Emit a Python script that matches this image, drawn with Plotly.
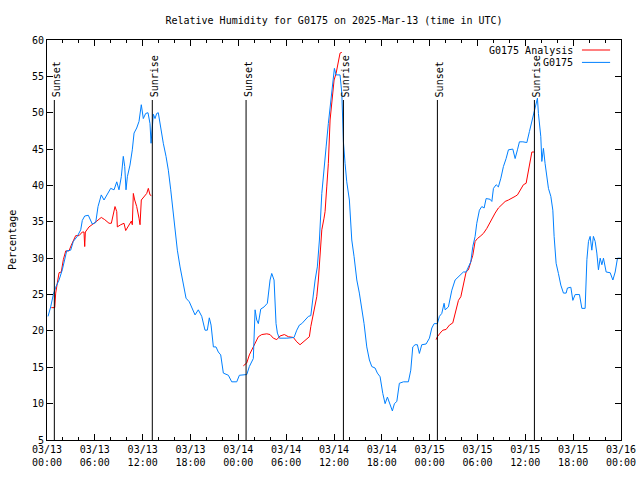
import pandas as pd
import plotly.graph_objects as go

BASE = pd.Timestamp("2025-03-13 00:00")

# G0175 observed relative humidity: hours since 03/13 00:00 UTC, percent
obs_hours = [0.13, 0.46, 0.79, 1.09, 1.51, 1.92, 2.47, 2.97, 3.30, 3.80, 4.23, 4.43, 4.73, 5.18, 5.68,
             6.11, 6.40, 6.74, 6.81, 7.15, 7.57, 7.99, 8.41, 8.75, 9.03, 9.32, 9.57, 9.75, 9.91, 10.08,
             10.41, 10.70, 10.92, 11.25, 11.54, 11.83, 12.08, 12.38, 12.67, 12.92, 13.05, 13.21, 13.34,
             13.55, 13.76, 13.96, 14.27, 14.59, 14.93, 15.22, 15.52, 15.77, 16.06, 16.35, 16.69, 17.10,
             17.44, 17.85, 18.16, 18.57, 18.98, 19.41, 19.82, 20.11, 20.36, 20.58, 20.87, 21.20, 21.49,
             21.79, 22.12, 22.75, 23.17, 23.80, 24.13, 24.63, 25.06, 25.38, 25.88, 26.10, 26.31, 26.51,
             26.81, 27.23, 27.64, 27.98, 28.19, 28.48, 28.73, 28.90, 29.15, 30.08, 30.99, 31.33, 31.66,
             31.96, 32.37, 32.79, 33.09, 33.34, 33.63, 33.91, 34.17, 34.47, 34.75, 35.01, 35.29, 35.51,
             35.72, 36.05, 36.26, 36.76, 36.98, 37.18, 37.39, 37.60, 37.93, 38.23, 38.52, 38.86, 39.18,
             39.48, 39.77, 40.11, 40.44, 40.74, 41.15, 41.44, 41.78, 42.12, 42.41, 42.70, 43.04, 43.32,
             43.58, 43.88, 44.20, 44.71, 45.33, 45.63, 45.88, 46.17, 46.46, 46.71, 47.01, 47.55, 47.97,
             48.27, 48.56, 48.97, 49.22, 49.52, 49.81, 49.94, 50.35, 50.78, 51.19, 51.73, 52.23, 52.57,
             52.86, 53.16, 53.41, 53.70, 53.91, 54.24, 54.54, 54.83, 55.08, 55.58, 55.80, 56.00, 56.34,
             56.62, 56.93, 57.25, 57.59, 57.88, 58.43, 58.72, 59.01, 59.26, 59.69, 60.19, 60.51, 60.82,
             61.10, 61.36, 61.52, 61.64, 61.94, 62.07, 62.27, 62.48, 62.70, 62.90, 63.20, 63.45, 63.61,
             63.86, 64.15, 64.45, 64.78, 65.12, 65.28, 65.71, 65.96, 66.25, 66.79, 67.09, 67.50, 67.72,
             67.92, 68.13, 68.34, 68.54, 68.76, 68.97, 69.17, 69.39, 69.60, 69.80, 70.14, 70.64, 70.98,
             71.27, 71.56, 71.98]
obs_values = [22.0, 23.3, 25.0, 26.0, 27.0, 28.4, 31.0, 31.1, 32.3, 33.0, 33.9, 35.2, 35.8, 35.9, 34.7,
              34.9, 37.1, 38.2, 38.7, 38.0, 38.9, 39.6, 39.4, 40.5, 39.4, 41.2, 44.0, 42.6, 39.4, 41.2,
              42.8, 44.9, 47.2, 47.9, 48.8, 51.1, 49.2, 49.9, 50.0, 48.5, 45.8, 48.5, 49.8,
              49.2, 49.9, 50.0, 47.6, 45.8, 44.0, 42.1, 39.4, 36.6, 33.9, 31.1, 28.8, 26.5,
              24.5, 24.0, 23.1, 22.2, 22.9, 22.0, 20.1, 20.1, 21.8, 20.8, 17.8, 17.8, 17.1,
              16.7, 14.2, 13.9, 13.0, 13.0, 13.9, 13.9, 14.0, 15.1, 16.2, 22.9, 21.5, 21.0,
              23.0, 23.3, 23.8, 27.0, 27.9, 27.0, 21.0, 19.7, 19.0, 19.0, 19.1, 20.1, 20.8,
              21.0, 21.5, 22.0, 22.1, 24.7, 27.0, 28.8, 32.5, 38.9, 42.6, 45.3, 48.5, 50.8,
              52.9, 56.1, 55.2, 55.2, 52.7, 46.0, 43.0, 40.5, 38.0, 32.5, 30.2, 27.0, 25.2,
              23.3, 21.0, 17.8, 16.0, 15.1, 14.9, 14.2, 13.7, 11.4, 10.0, 10.9, 9.8, 9.0,
              10.0, 10.3, 12.8, 13.0, 13.0, 14.6, 17.8, 18.1, 18.1, 16.9, 18.1, 18.2, 19.0,
              20.4, 21.0, 21.0, 22.0, 22.4, 23.8, 22.9, 23.3, 25.6, 27.0, 27.5, 28.1, 28.1,
              28.8, 29.5, 31.6, 33.0, 34.8, 36.6, 37.1, 36.9, 38.2, 38.1, 37.8, 39.6, 40.1,
              39.8, 41.0, 42.6, 43.7, 44.9, 45.0, 43.7, 44.9, 46.0, 46.0, 45.9, 47.4, 48.8,
              50.1, 51.5, 52.0, 49.9, 46.7, 43.3, 45.1, 43.0, 41.2, 39.6, 38.5, 36.6, 33.0,
              29.3, 27.9, 26.3, 25.2, 25.2, 25.9, 26.0, 24.2, 25.0, 25.0, 23.1, 23.1, 29.8,
              32.3, 33.0, 31.1, 33.0, 32.3, 30.7, 28.4, 30.0, 29.1, 30.0, 28.1, 28.0, 27.0,
              28.1, 30.0, 30.0]

# G0175 Analysis (three night-time segments)
ana_hours_1 = [0.54, 0.97, 1.09, 1.29, 1.51, 1.79, 2.05, 2.35, 2.76, 3.05, 3.39, 3.60, 4.02, 4.43, 4.64,
               4.73, 4.81, 5.27, 5.90, 6.40, 6.81, 7.24, 7.78, 8.07, 8.32, 8.53, 8.75, 8.82, 9.25, 9.66,
               9.87, 10.16, 10.58, 10.70, 10.83, 11.00, 11.25, 11.54, 11.67, 11.83, 12.17, 12.51, 12.71,
               12.92, 13.09]
ana_values_1 = [23.2, 23.2, 25.2, 26.5, 28.0, 28.1, 29.8, 31.0, 31.0, 31.8, 32.5, 33.1, 33.1, 33.6, 33.6,
                31.6, 33.6, 34.3, 34.8, 35.2, 35.6, 35.3, 34.8, 34.8, 36.2, 37.1, 36.4, 34.3, 34.6, 34.8,
                33.8, 34.3, 35.1, 34.6, 38.9, 38.0, 37.1, 35.5, 34.6, 38.0, 38.5, 38.9, 39.6,
                38.7, 38.6]
ana_hours_2 = [24.63, 25.06, 25.38, 25.68, 26.10, 26.51, 26.94, 27.57, 27.98, 28.39, 28.82, 29.23, 29.77,
               30.28, 30.90, 31.33, 31.74, 32.16, 32.58, 32.91, 33.09, 33.34, 33.63, 33.84, 34.04, 34.25,
               34.47, 34.75, 34.88, 35.09, 35.29, 35.51, 35.72, 36.01, 36.26, 36.55, 36.76, 36.98]
ana_values_2 = [15.2, 15.6, 16.7, 17.4, 18.3, 19.2, 19.5, 19.6, 19.5, 19.0, 18.8, 19.3, 19.5,
                19.2, 19.1, 18.5, 18.1, 18.5, 19.0, 19.2, 20.6, 22.0, 23.8, 24.7, 27.0, 30.2,
                33.9, 35.5, 36.4, 39.8, 43.0, 49.0, 51.7, 54.5, 55.4, 57.0, 58.2, 58.3]
ana_hours_3 = [48.81, 48.97, 49.31, 49.65, 50.06, 50.48, 50.90, 51.19, 51.61, 51.91, 52.23, 52.57, 52.86,
               53.16, 53.41, 53.70, 53.99, 54.33, 54.74, 55.17, 55.50, 55.80, 56.21, 56.62, 57.05, 57.47,
               57.88, 58.31, 58.72, 59.01, 59.35, 59.76, 60.10, 60.39, 60.60, 60.82, 61.10]
ana_values_3 = [18.8, 19.2, 19.7, 20.1, 20.2, 20.8, 21.1, 22.4, 24.2, 24.7, 26.5, 28.1, 28.4,
                29.5, 30.4, 32.3, 32.7, 33.0, 33.4, 34.1, 34.8, 35.5, 36.2, 36.9, 37.3, 37.8,
                38.0, 38.2, 38.5, 38.7, 39.4, 40.1, 40.3, 42.1, 43.5, 44.6, 44.6]

# Sun events (hours since 03/13 00:00 UTC)
event_hours = [0.92, 13.21, 24.97, 37.18, 48.97, 61.14]
event_labels = ["Sunset", "Sunrise", "Sunset", "Sunrise", "Sunset", "Sunrise"]
event_line_top = 51.75

tick_hours = [0, 6, 12, 18, 24, 30, 36, 42, 48, 54, 60, 66, 72]
tick_labels = ["03/13<br>00:00", "03/13<br>06:00", "03/13<br>12:00", "03/13<br>18:00",
               "03/14<br>00:00", "03/14<br>06:00", "03/14<br>12:00", "03/14<br>18:00",
               "03/15<br>00:00", "03/15<br>06:00", "03/15<br>12:00", "03/15<br>18:00",
               "03/16<br>00:00"]

series_names = ["G0175 Analysis", "G0175"]
RED = "#ff0000"
BLUE = "#0080ff"
FONT = "DejaVu Sans Mono"


def to_time(hours):
    return [BASE + pd.Timedelta(hours=h) if h is not None else None for h in hours]


ana_hours = ana_hours_1 + [None] + ana_hours_2 + [None] + ana_hours_3
ana_values = ana_values_1 + [None] + ana_values_2 + [None] + ana_values_3

fig = go.Figure()
fig.add_trace(go.Scatter(x=to_time(ana_hours), y=ana_values, mode="lines",
                         line=dict(color=RED, width=1), name=series_names[0],
                         connectgaps=False, showlegend=False))
fig.add_trace(go.Scatter(x=to_time(obs_hours), y=obs_values, mode="lines",
                         line=dict(color=BLUE, width=1), name=series_names[1],
                         showlegend=False))

for h, lab in zip(event_hours, event_labels):
    t = BASE + pd.Timedelta(hours=h)
    fig.add_shape(type="line", xref="x", yref="y", x0=t, x1=t, y0=5, y1=event_line_top,
                  line=dict(color="black", width=1), layer="above")
    fig.add_annotation(x=t, y=event_line_top, xref="x", yref="y", text=lab, textangle=-90,
                       showarrow=False, xanchor="center", yanchor="bottom", xshift=2, yshift=1,
                       font=dict(family=FONT, size=10, color="black"))

# manual gnuplot-style legend (text, then line sample)
for i, (name, col) in enumerate(zip(series_names, [RED, BLUE])):
    yp = 0.975 - i * 0.031
    fig.add_annotation(x=0.919, y=yp, xref="paper", yref="paper", text=name, showarrow=False,
                       xanchor="right", yanchor="middle", font=dict(family=FONT, size=10, color="black"))
    fig.add_shape(type="line", xref="paper", yref="paper", x0=0.932, x1=0.981, y0=yp, y1=yp,
                  line=dict(color=col, width=1))

fig.add_annotation(x=-0.061, y=0.5, xref="paper", yref="paper", text="Percentage", textangle=-90,
                   showarrow=False, xanchor="center", yanchor="middle",
                   font=dict(family=FONT, size=10, color="black"))

fig.update_layout(
    width=640, height=480,
    margin=dict(l=47, r=19, t=40, b=40, autoexpand=False),
    paper_bgcolor="white", plot_bgcolor="white",
    font=dict(family=FONT, size=10, color="black"),
    title=dict(text="Relative Humidity for G0175 on 2025-Mar-13 (time in UTC)",
               x=0.5, xref="paper", xanchor="center", y=1 - 20 / 480, yanchor="middle",
               font=dict(family=FONT, size=10, color="black")),
    showlegend=False,
)
fig.update_xaxes(
    range=[BASE, BASE + pd.Timedelta(hours=72)], type="date",
    tickvals=to_time(tick_hours), ticktext=tick_labels,
    ticks="inside", ticklen=6, tickcolor="black", tickwidth=1,
    minor=dict(dtick=2 * 3600 * 1000, ticks="inside", ticklen=3, tickcolor="black", showgrid=False),
    showline=True, linecolor="black", linewidth=1, mirror="ticks",
    showgrid=False, zeroline=False,
    tickfont=dict(family=FONT, size=10, color="black"),
)
fig.update_yaxes(
    range=[5, 60], dtick=5, tick0=5,
    ticks="inside", ticklen=6, tickcolor="black", tickwidth=1,
    showline=True, linecolor="black", linewidth=1, mirror="ticks",
    showgrid=False, zeroline=False,
    tickfont=dict(family=FONT, size=10, color="black"),
)

fig.write_html("out.html", config={"displayModeBar": False, "staticPlot": True})

# remove the browser's default 8px body margin so the figure sits at the page origin
with open("out.html", "r", encoding="utf-8") as f:
    html = f.read()
html = html.replace("<head>", "<head><style>html,body{margin:0;padding:0;}</style>", 1)
with open("out.html", "w", encoding="utf-8") as f:
    f.write(html)
